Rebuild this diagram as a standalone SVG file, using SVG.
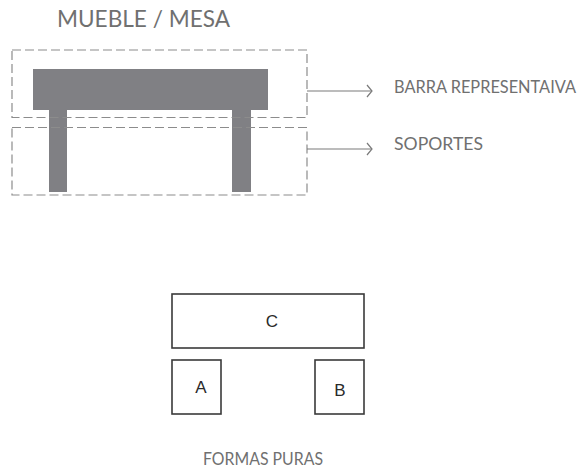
<svg xmlns="http://www.w3.org/2000/svg" width="583" height="470" viewBox="0 0 583 470">
<style>
.lbl{font-family:"Lato","Open Sans","Liberation Sans",sans-serif;font-weight:400;fill:#707070}
.dash{fill:none;stroke:#8c8c8c;stroke-width:1.2;stroke-dasharray:9 4}
.solid{fill:#808084}
.box{fill:#fff;stroke:#3a3a3a;stroke-width:1.6}
.letter{font-family:"Liberation Sans","Arial",sans-serif;font-weight:400;fill:#2a2a2a;font-size:17px;text-anchor:middle}
.conn{fill:none;stroke:#7a7a7a;stroke-width:1.2}
</style>
<defs>
<marker id="chev" markerWidth="8" markerHeight="14" refX="6" refY="7" orient="auto" markerUnits="userSpaceOnUse">
<path d="M1,1 L6,7 L1,13" fill="none" stroke="#7a7a7a" stroke-width="1.2"/>
</marker>
</defs>
<text class="lbl" x="57" y="27" font-size="23" textLength="173" lengthAdjust="spacingAndGlyphs">MUEBLE / MESA</text>
<g id="table">
<rect class="solid" x="33" y="69" width="235" height="41"/>
<rect class="solid" x="49" y="110" width="18" height="82"/>
<rect class="solid" x="232" y="110" width="19" height="82"/>
</g>
<g id="barra">
<rect class="dash" x="12" y="50" width="295" height="67.5"/>
</g>
<g id="soportes">
<rect class="dash" x="12" y="127.5" width="295" height="67.5"/>
</g>
<g id="connectors">
<line class="conn" x1="307" y1="91" x2="372" y2="91" marker-end="url(#chev)"/>
<line class="conn" x1="307" y1="149" x2="372" y2="149" marker-end="url(#chev)"/>
</g>
<text class="lbl" transform="translate(394,93) scale(1,1.1)" x="0" y="0" font-size="16.5" textLength="182" lengthAdjust="spacingAndGlyphs">BARRA REPRESENTAIVA</text>
<text class="lbl" x="394" y="150" font-size="18" textLength="89" lengthAdjust="spacingAndGlyphs">SOPORTES</text>
<g id="C">
<rect class="box" x="172" y="294" width="192" height="54"/>
<text class="letter" x="272" y="327">C</text>
</g>
<g id="A">
<rect class="box" x="172" y="360" width="49" height="54"/>
<text class="letter" x="201" y="393">A</text>
</g>
<g id="B">
<rect class="box" x="315" y="360" width="49" height="54"/>
<text class="letter" x="340" y="396">B</text>
</g>
<text class="lbl" x="203" y="465" font-size="18" textLength="120" lengthAdjust="spacingAndGlyphs">FORMAS PURAS</text>
</svg>
